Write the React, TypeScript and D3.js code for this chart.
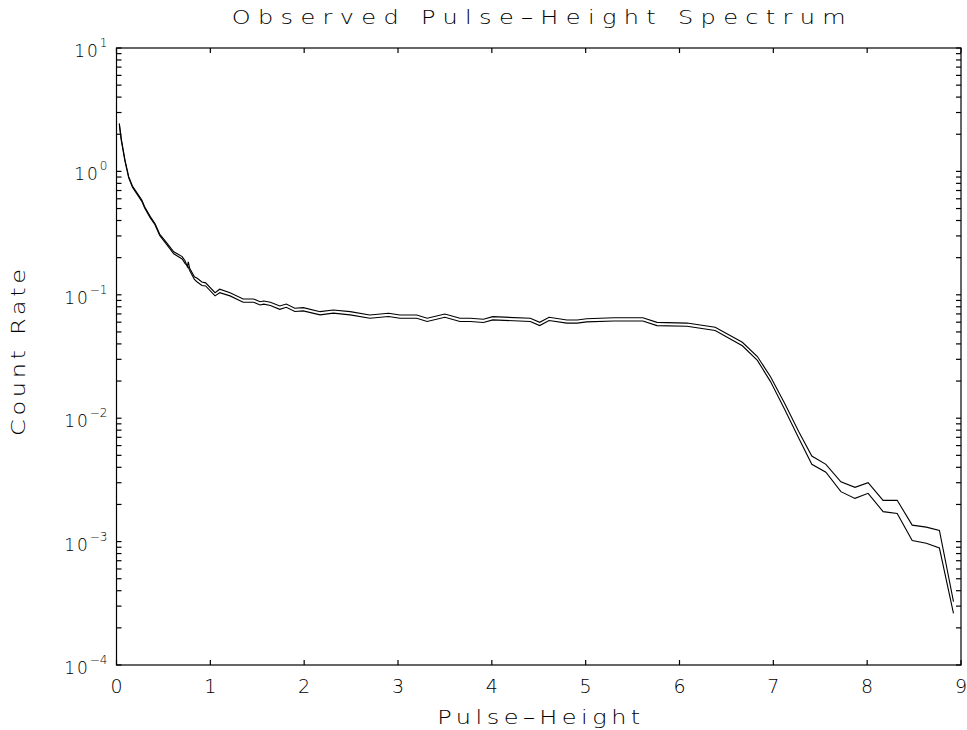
import React, { useEffect, useRef } from 'react'
import * as d3 from 'd3'

// pulse-height channels (shared by both spectra)
const pulseHeight = [
  0.03, 0.05, 0.09, 0.13, 0.17, 0.27, 0.30, 0.36, 0.41, 0.46, 0.54, 0.61, 0.70, 0.73, 0.755, 0.765,
  0.78, 0.83, 0.86, 0.91, 0.95, 1.05, 1.10, 1.21, 1.35, 1.46, 1.53, 1.57, 1.64, 1.74, 1.81, 1.90,
  1.99, 2.17, 2.31, 2.49, 2.70, 2.90, 3.02, 3.20, 3.31, 3.50, 3.66, 3.77, 3.91, 4.01, 4.41, 4.51,
  4.61, 4.80, 4.91, 5.01, 5.30, 5.61, 5.76, 6.08, 6.38, 6.67, 6.83, 6.97, 7.12, 7.27, 7.41, 7.56,
  7.72, 7.87, 8.01, 8.17, 8.32, 8.48, 8.63, 8.77, 8.92,
]

const upperRate = [
  2.45, 1.85, 1.24, 0.906, 0.762, 0.586, 0.518, 0.430, 0.379, 0.311, 0.261, 0.223, 0.204, 0.189, 0.169, 0.185,
  0.164, 0.140, 0.136, 0.127, 0.125, 0.104, 0.111, 0.104, 0.0925, 0.0925, 0.0879, 0.0891, 0.0869, 0.0811, 0.0841, 0.0778,
  0.0787, 0.0730, 0.0754, 0.0730, 0.0686, 0.0708, 0.0686, 0.0686, 0.0645, 0.0698, 0.0645, 0.0645, 0.0633, 0.0665, 0.0645, 0.0598,
  0.0657, 0.0625, 0.0625, 0.0640, 0.0652, 0.0652, 0.0598, 0.0590, 0.0545, 0.0412, 0.0316, 0.0217, 0.0132, 0.0078, 0.00494, 0.00423,
  0.00305, 0.00275, 0.00300, 0.00216, 0.00216, 0.00136, 0.00131, 0.00123, 0.000326,
]

const lowerRate = [
  2.40, 1.80, 1.21, 0.885, 0.745, 0.572, 0.505, 0.420, 0.370, 0.303, 0.253, 0.215, 0.195, 0.180, 0.172, 0.168,
  0.157, 0.133, 0.127, 0.119, 0.118, 0.098, 0.104, 0.098, 0.0870, 0.0870, 0.0828, 0.0840, 0.0818, 0.0763, 0.0792, 0.0733,
  0.0741, 0.0688, 0.0710, 0.0688, 0.0646, 0.0667, 0.0646, 0.0646, 0.0608, 0.0657, 0.0608, 0.0608, 0.0596, 0.0626, 0.0608, 0.0563,
  0.0619, 0.0589, 0.0589, 0.0603, 0.0614, 0.0614, 0.0563, 0.0556, 0.0513, 0.0386, 0.0294, 0.0198, 0.0118, 0.0069, 0.00423, 0.00365,
  0.00254, 0.00224, 0.00246, 0.00175, 0.00169, 0.00102, 0.00097, 0.000887, 0.000262,
]

const xTicks = [0, 1, 2, 3, 4, 5, 6, 7, 8, 9]
const yExponents = [-4, -3, -2, -1, 0, 1]

const font = '"DejaVu Sans", sans-serif'
const stretch = 1.2

const App = () => {
  const width = 967
  const height = 730
  const margin = { top: 48, right: 6, bottom: 65, left: 116.5 }
  const svgRef = useRef<SVGSVGElement>(null)

  useEffect(() => {
    if (!svgRef.current) return
    const svg = d3.select(svgRef.current)
    svg.selectAll('*').remove()

    const x0 = margin.left
    const x1 = width - margin.right
    const y0 = height - margin.bottom
    const y1 = margin.top

    const xScale = d3.scaleLinear().domain([0, 9]).range([x0, x1])
    const yScale = d3.scaleLog().domain([1e-4, 1e1]).range([y0, y1])

    const axis = svg.append('g').attr('stroke', '#000').attr('stroke-width', 1.2)

    // frame
    axis.append('rect')
      .attr('x', x0).attr('y', y1)
      .attr('width', x1 - x0).attr('height', y0 - y1)
      .attr('fill', 'none')

    // x ticks bottom + top
    xTicks.forEach((t) => {
      const px = xScale(t)
      axis.append('line').attr('x1', px).attr('x2', px).attr('y1', y0).attr('y2', y0 - 5)
      axis.append('line').attr('x1', px).attr('x2', px).attr('y1', y1).attr('y2', y1 + 5)
    })

    // y ticks (decades + minor)
    const yTickVals: number[] = []
    yExponents.forEach((e) => {
      for (let m = 1; m <= 9; m++) {
        const v = m * Math.pow(10, e)
        if (v <= 10) yTickVals.push(v)
      }
    })
    yTickVals.forEach((v) => {
      const py = yScale(v)
      axis.append('line').attr('x1', x0).attr('x2', x0 + 5).attr('y1', py).attr('y2', py)
      axis.append('line').attr('x1', x1).attr('x2', x1 - 5).attr('y1', py).attr('y2', py)
    })

    // x tick labels
    svg.append('g')
      .selectAll('text')
      .data(xTicks)
      .join('text')
      .attr('x', (d) => xScale(d))
      .attr('y', y0 + 28)
      .attr('text-anchor', 'middle')
      .attr('font-family', font)
      .attr('font-weight', 300)
      .attr('font-size', 19)
      .attr('fill', '#000')
      .text((d) => String(d))

    // y tick labels 10^n
    const yl = svg.append('g').attr('font-family', font).attr('font-weight', 300).attr('fill', '#000')
    yExponents.forEach((e) => {
      const py = yScale(Math.pow(10, e))
      const t = yl.append('text').attr('x', x0 - 9).attr('y', py + 9).attr('text-anchor', 'end')
      t.append('tspan').attr('font-size', 17).attr('letter-spacing', 2).text('10')
      t.append('tspan').attr('font-size', 12).attr('dy', -10).text(e < 0 ? '\u2212' + Math.abs(e) : String(e))
    })

    // spectra
    const line = d3.line<number>()
      .x((_, i) => xScale(pulseHeight[i]))
      .y((d) => yScale(d))

    ;[upperRate, lowerRate].forEach((series) => {
      svg.append('path')
        .datum(series)
        .attr('d', line)
        .attr('fill', 'none')
        .attr('stroke', '#000')
        .attr('stroke-width', 1.1)
    })

    // titles, glyphs stretched horizontally like the vector font
    const label = (transform: string, txt: string, len: number) => {
      svg.append('g')
        .attr('transform', transform + ` scale(${stretch},1)`)
        .append('text')
        .attr('x', 0)
        .attr('y', 0)
        .attr('text-anchor', 'middle')
        .attr('font-family', font)
        .attr('font-weight', 300)
        .attr('font-size', 20)
        .attr('fill', '#000')
        .attr('textLength', len / stretch)
        .attr('lengthAdjust', 'spacing')
        .text(txt)
    }

    label(`translate(${(x0 + x1) / 2},24)`, 'Observed Pulse\u2013Height Spectrum', 614)
    label(`translate(${(x0 + x1) / 2},724)`, 'Pulse\u2013Height', 203)
    label(`translate(25,${(y0 + y1) / 2 - 4}) rotate(-90)`, 'Count Rate', 167)
  }, [])

  return (
    <svg
      ref={svgRef}
      width={width}
      height={height}
      style={{ position: 'absolute', left: 0, top: 0, background: '#fff' }}
    />
  )
}

export default App
